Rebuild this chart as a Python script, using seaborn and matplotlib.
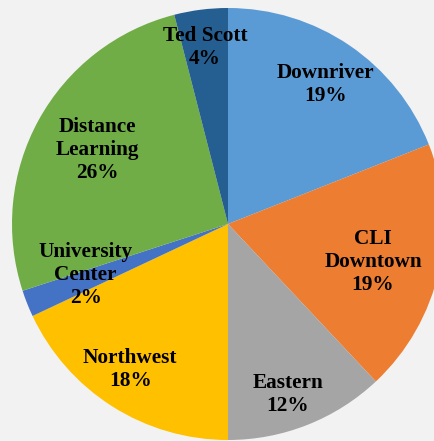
import matplotlib
matplotlib.use("Agg")
import matplotlib.pyplot as plt
import seaborn as sns
import numpy as np

categories = ["Downriver", "CLI\nDowntown", "Eastern", "Northwest",
              "University\nCenter", "Distance\nLearning", "Ted Scott"]
values = [19, 19, 12, 18, 2, 26, 4]
colors = ["#5B9BD5", "#ED7D31", "#A5A5A5", "#FFC000", "#4472C4", "#70AD47", "#255E91"]

sns.set_theme(style="white")
plt.rcParams['font.family'] = ['Liberation Serif', 'DejaVu Serif']

fig = plt.figure(figsize=(4.35, 4.41), dpi=100, facecolor="#f2f2f2")
cx, cy, r = 228, 224, 216
W, H = 435, 441
ax = fig.add_axes([(cx - r) / W, (H - cy - r) / H, 2 * r / W, 2 * r / H])
ax.set_facecolor("none")

wedges, _ = ax.pie(values, colors=colors, startangle=90, counterclock=False,
                   radius=1, wedgeprops=dict(linewidth=0))
ax.set_aspect("auto")
ax.set_xlim(-1, 1)
ax.set_ylim(-1, 1)
ax.axis("off")

# label placement (radius fraction, angle tweak in degrees)
label_r = [0.79, 0.694, 0.835, 0.81, 0.70, 0.697, 0.826]
label_dang = [-0.8, -2.1, -2.2, -1.6, -1.8, -0.7, 0.2]
total = sum(values)
for w, cat, v, lr, da in zip(wedges, categories, values, label_r, label_dang):
    ang = np.deg2rad((w.theta1 + w.theta2) / 2 + da)
    ax.text(lr * np.cos(ang), lr * np.sin(ang), f"{cat}\n{round(100 * v / total)}%",
            ha="center", va="center", fontsize=15.3, fontweight="bold",
            color="black", linespacing=1.2)

fig.savefig("out.png", dpi=100, facecolor=fig.get_facecolor())
